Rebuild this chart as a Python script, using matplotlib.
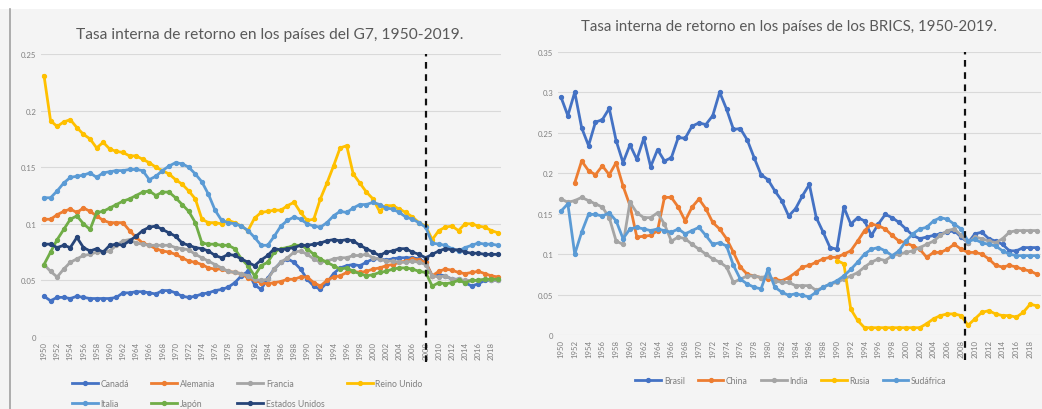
import numpy as np
import matplotlib
matplotlib.use("Agg")
import matplotlib.pyplot as plt
from matplotlib.patches import Rectangle
from matplotlib.lines import Line2D

plt.rcParams['font.family'] = ['Lato', 'DejaVu Sans']

years = list(range(1950, 2020))
nan = np.nan

# ---- G7 ----
canada = [0.036, 0.032, 0.035, 0.035, 0.034, 0.036, 0.035, 0.034, 0.034, 0.034,
          0.034, 0.035, 0.039, 0.039, 0.040, 0.040, 0.039, 0.038, 0.041, 0.041,
          0.039, 0.036, 0.035, 0.036, 0.038, 0.039, 0.041, 0.042, 0.044, 0.048,
          0.054, 0.058, 0.046, 0.042, 0.052, 0.060, 0.066, 0.069, 0.066, 0.060,
          0.051, 0.045, 0.042, 0.048, 0.056, 0.061, 0.063, 0.064, 0.063, 0.066,
          0.069, 0.069, 0.068, 0.069, 0.070, 0.070, 0.070, 0.069, 0.066, 0.054,
          0.055, 0.054, 0.051, 0.051, 0.048, 0.045, 0.047, 0.050, 0.050, 0.050]
alemania = [0.104, 0.104, 0.108, 0.111, 0.113, 0.110, 0.114, 0.111, 0.107, 0.103,
            0.101, 0.101, 0.101, 0.094, 0.088, 0.083, 0.081, 0.078, 0.076, 0.075,
            0.073, 0.070, 0.067, 0.066, 0.064, 0.061, 0.060, 0.060, 0.058, 0.057,
            0.056, 0.052, 0.050, 0.048, 0.047, 0.048, 0.049, 0.051, 0.051, 0.053,
            0.053, 0.048, 0.045, 0.050, 0.053, 0.054, 0.057, 0.058, 0.057, 0.058,
            0.060, 0.061, 0.063, 0.064, 0.066, 0.067, 0.069, 0.068, 0.066, 0.054,
            0.058, 0.060, 0.059, 0.057, 0.056, 0.057, 0.058, 0.056, 0.054, 0.053]
francia = [0.064, 0.058, 0.053, 0.060, 0.066, 0.069, 0.072, 0.073, 0.075, 0.075,
           0.076, 0.081, 0.085, 0.086, 0.083, 0.082, 0.081, 0.081, 0.081, 0.081,
           0.079, 0.078, 0.077, 0.073, 0.070, 0.067, 0.064, 0.061, 0.058, 0.057,
           0.056, 0.054, 0.051, 0.050, 0.051, 0.060, 0.066, 0.070, 0.075, 0.076,
           0.073, 0.069, 0.066, 0.067, 0.069, 0.070, 0.070, 0.072, 0.072, 0.073,
           0.070, 0.069, 0.067, 0.067, 0.066, 0.066, 0.067, 0.066, 0.064, 0.054,
           0.053, 0.054, 0.051, 0.051, 0.050, 0.050, 0.050, 0.051, 0.050, 0.050]
reino_unido = [0.231, 0.191, 0.186, 0.190, 0.192, 0.185, 0.179, 0.175, 0.167, 0.172,
               0.166, 0.164, 0.163, 0.160, 0.160, 0.157, 0.154, 0.150, 0.147, 0.144,
               0.139, 0.135, 0.129, 0.122, 0.104, 0.101, 0.101, 0.100, 0.103, 0.101,
               0.098, 0.094, 0.105, 0.110, 0.111, 0.112, 0.112, 0.116, 0.119, 0.110,
               0.103, 0.104, 0.122, 0.136, 0.151, 0.167, 0.169, 0.144, 0.136, 0.128,
               0.122, 0.111, 0.116, 0.116, 0.113, 0.110, 0.106, 0.101, 0.098, 0.086,
               0.094, 0.097, 0.098, 0.094, 0.100, 0.100, 0.098, 0.097, 0.094, 0.092]
italia = [0.123, 0.123, 0.129, 0.136, 0.141, 0.142, 0.143, 0.145, 0.141, 0.145,
          0.146, 0.147, 0.147, 0.148, 0.148, 0.147, 0.139, 0.142, 0.147, 0.151,
          0.154, 0.153, 0.150, 0.144, 0.137, 0.126, 0.112, 0.103, 0.101, 0.100,
          0.098, 0.094, 0.088, 0.081, 0.081, 0.089, 0.098, 0.103, 0.106, 0.104,
          0.100, 0.098, 0.097, 0.101, 0.107, 0.111, 0.110, 0.114, 0.117, 0.117,
          0.119, 0.117, 0.114, 0.113, 0.110, 0.106, 0.104, 0.101, 0.097, 0.083,
          0.082, 0.081, 0.078, 0.076, 0.079, 0.081, 0.083, 0.082, 0.082, 0.081]
japon = [0.064, 0.075, 0.086, 0.095, 0.104, 0.107, 0.100, 0.095, 0.110, 0.111,
         0.114, 0.117, 0.120, 0.122, 0.125, 0.128, 0.129, 0.125, 0.128, 0.128,
         0.123, 0.117, 0.111, 0.101, 0.083, 0.082, 0.082, 0.081, 0.081, 0.078,
         0.069, 0.063, 0.054, 0.063, 0.066, 0.075, 0.078, 0.079, 0.081, 0.081,
         0.078, 0.073, 0.069, 0.066, 0.063, 0.060, 0.061, 0.058, 0.056, 0.054,
         0.055, 0.057, 0.058, 0.060, 0.061, 0.061, 0.060, 0.058, 0.057, 0.045,
         0.048, 0.047, 0.048, 0.050, 0.048, 0.050, 0.050, 0.051, 0.051, 0.051]
estados_unidos = [0.082, 0.082, 0.079, 0.081, 0.079, 0.088, 0.079, 0.076, 0.078, 0.075,
                  0.081, 0.082, 0.081, 0.085, 0.089, 0.094, 0.097, 0.098, 0.095, 0.092,
                  0.089, 0.083, 0.081, 0.079, 0.078, 0.076, 0.072, 0.070, 0.073, 0.072,
                  0.069, 0.066, 0.063, 0.068, 0.072, 0.078, 0.077, 0.078, 0.079, 0.081,
                  0.081, 0.082, 0.083, 0.085, 0.086, 0.085, 0.086, 0.085, 0.081, 0.078,
                  0.075, 0.072, 0.075, 0.076, 0.078, 0.078, 0.075, 0.073, 0.070, 0.073,
                  0.076, 0.078, 0.077, 0.077, 0.075, 0.074, 0.074, 0.073, 0.073, 0.073]

# ---- BRICS ----
brasil = [0.294, 0.271, 0.300, 0.256, 0.234, 0.263, 0.266, 0.280, 0.240, 0.213,
          0.235, 0.217, 0.243, 0.208, 0.229, 0.215, 0.219, 0.244, 0.243, 0.258,
          0.262, 0.260, 0.271, 0.300, 0.279, 0.254, 0.255, 0.241, 0.219, 0.198,
          0.192, 0.178, 0.166, 0.147, 0.156, 0.172, 0.186, 0.145, 0.127, 0.108,
          0.106, 0.158, 0.137, 0.145, 0.141, 0.123, 0.137, 0.149, 0.145, 0.139,
          0.131, 0.123, 0.119, 0.121, 0.123, 0.125, 0.127, 0.129, 0.121, 0.114,
          0.125, 0.127, 0.119, 0.116, 0.112, 0.104, 0.104, 0.108, 0.108, 0.108]
china = [nan, nan, 0.188, 0.215, 0.203, 0.198, 0.209, 0.198, 0.213, 0.184,
         0.160, 0.121, 0.122, 0.123, 0.129, 0.170, 0.170, 0.158, 0.141, 0.158,
         0.168, 0.156, 0.139, 0.131, 0.119, 0.102, 0.084, 0.075, 0.073, 0.071,
         0.069, 0.069, 0.067, 0.071, 0.077, 0.084, 0.086, 0.090, 0.094, 0.096,
         0.096, 0.100, 0.104, 0.116, 0.129, 0.137, 0.135, 0.131, 0.123, 0.116,
         0.114, 0.110, 0.106, 0.096, 0.102, 0.102, 0.106, 0.112, 0.106, 0.102,
         0.102, 0.100, 0.094, 0.086, 0.084, 0.086, 0.084, 0.081, 0.079, 0.075]
india = [0.168, 0.164, 0.166, 0.170, 0.166, 0.162, 0.158, 0.145, 0.116, 0.112,
         0.164, 0.151, 0.145, 0.145, 0.151, 0.137, 0.116, 0.121, 0.119, 0.112,
         0.106, 0.100, 0.094, 0.090, 0.084, 0.065, 0.069, 0.073, 0.073, 0.071,
         0.073, 0.067, 0.065, 0.065, 0.061, 0.061, 0.061, 0.055, 0.059, 0.063,
         0.065, 0.069, 0.073, 0.077, 0.084, 0.090, 0.094, 0.092, 0.098, 0.100,
         0.102, 0.104, 0.108, 0.112, 0.116, 0.123, 0.129, 0.131, 0.123, 0.114,
         0.121, 0.119, 0.116, 0.114, 0.119, 0.127, 0.129, 0.129, 0.129, 0.129]
rusia = [nan] * 40 + [0.092, 0.088, 0.032, 0.018, 0.009, 0.009, 0.009, 0.009, 0.009, 0.009,
                      0.009, 0.009, 0.009, 0.014, 0.020, 0.024, 0.026, 0.026, 0.024, 0.012,
                      0.020, 0.028, 0.030, 0.026, 0.024, 0.024, 0.022, 0.028, 0.038, 0.036]
sudafrica = [0.153, 0.162, 0.100, 0.127, 0.149, 0.149, 0.147, 0.151, 0.141, 0.119,
             0.131, 0.133, 0.131, 0.129, 0.131, 0.129, 0.127, 0.131, 0.125, 0.129,
             0.133, 0.123, 0.112, 0.114, 0.110, 0.086, 0.069, 0.063, 0.059, 0.057,
             0.081, 0.059, 0.053, 0.049, 0.051, 0.049, 0.047, 0.053, 0.059, 0.063,
             0.067, 0.073, 0.081, 0.090, 0.100, 0.106, 0.108, 0.104, 0.098, 0.104,
             0.116, 0.125, 0.131, 0.133, 0.141, 0.145, 0.143, 0.137, 0.131, 0.116,
             0.118, 0.114, 0.112, 0.110, 0.104, 0.100, 0.098, 0.098, 0.098, 0.098]

g7_names = ["Canadá", "Alemania", "Francia", "Reino Unido", "Italia", "Japón", "Estados Unidos"]
g7_series = [canada, alemania, francia, reino_unido, italia, japon, estados_unidos]
brics_names = ["Brasil", "China", "India", "Rusia", "Sudáfrica"]
brics_series = [brasil, china, india, rusia, sudafrica]

g7_yticks = [0, 0.05, 0.1, 0.15, 0.2, 0.25]
g7_yticklabels = ["0", "0.05", "0.1", "0.15", "0.2", "0.25"]
brics_yticks = [0, 0.05, 0.1, 0.15, 0.2, 0.25, 0.3, 0.35]
brics_yticklabels = ["0", "0.05", "0.1", "0.15", "0.2", "0.25", "0.3", "0.35"]
xtick_years = list(range(1950, 2019, 2))
crisis_g7 = 2008
crisis_brics = 2008.6

title_g7 = "Tasa interna de retorno en los países del G7, 1950-2019."
title_brics = "Tasa interna de retorno en los países de los BRICS, 1950-2019."

g7_colors = ["#4472C4", "#ED7D31", "#A5A5A5", "#FFC000", "#5B9BD5", "#70AD47", "#264478"]
brics_colors = ["#4472C4", "#ED7D31", "#A5A5A5", "#FFC000", "#5B9BD5"]

for s in g7_series + brics_series:
    assert len(s) == 70

BG = "#f4f4f4"
W, H = 1042, 410
fig = plt.figure(figsize=(W / 100, H / 100), dpi=100, facecolor=BG)

def px_axes(x0, y0, x1, y1):
    return fig.add_axes([x0 / W, 1 - y1 / H, (x1 - x0) / W, (y1 - y0) / H])

# white strip on top and left border line
fig.patches.append(Rectangle((0, 1 - 10 / H), 1, 10 / H, transform=fig.transFigure,
                             facecolor="white", edgecolor="none", zorder=0))
fig.lines.append(Line2D([10 / W, 10 / W], [0, 1 - 10 / H], transform=fig.transFigure,
                        color="#a0a0a0", lw=1.2))

ax1 = px_axes(40.7, 55, 501.3, 338)
ax2 = px_axes(557.5, 52.7, 1040.5, 336)

def style(ax, yticks, ylabels, ymax, crisis):
    ax.set_facecolor(BG)
    ax.set_xlim(1949.5, 2019.5)
    ax.set_ylim(0, ymax)
    ax.set_yticks(yticks)
    ax.set_yticklabels(ylabels)
    ax.set_xticks(xtick_years)
    ax.set_xticklabels([str(y) for y in xtick_years], rotation=90)
    ax.tick_params(axis="both", length=0, labelsize=5.6, colors="#7f7f7f", pad=3)
    ax.grid(axis="y", color="#d9d9d9", lw=0.8)
    ax.set_axisbelow(True)
    for sp in ax.spines.values():
        sp.set_visible(False)
    ax.axvline(crisis, ymin=-0.09, ymax=1.0, color="#111111", lw=1.6,
               ls=(0, (3, 2.5)), clip_on=False, zorder=5)

for name, vals, col in zip(g7_names, g7_series, g7_colors):
    ax1.plot(years, vals, color=col, lw=2.0, marker="o", ms=2.8, label=name, zorder=3)
for name, vals, col in zip(brics_names, brics_series, brics_colors):
    ax2.plot(years, vals, color=col, lw=2.0, marker="o", ms=2.8, label=name, zorder=3)

style(ax1, g7_yticks, g7_yticklabels, 0.25, crisis_g7)
style(ax2, brics_yticks, brics_yticklabels, 0.35, crisis_brics)

fig.text(270 / W, 1 - 35 / H, title_g7, ha="center", va="center", fontsize=11.2, color="#595959")
fig.text(789 / W, 1 - 27 / H, title_brics, ha="center", va="center", fontsize=10.8, color="#595959")

# legend in row-major order (matplotlib fills legend columns first)
h1, l1 = ax1.get_legend_handles_labels()
order = [0, 4, 1, 5, 2, 6, 3]
fig.legend([h1[i] for i in order], [l1[i] for i in order], ncol=4, loc="upper left",
           bbox_to_anchor=(72 / W, 1 - 380 / H), frameon=False, fontsize=6.2,
           labelcolor="#7f7f7f", handlelength=3.0, columnspacing=2.6,
           handletextpad=0.3, labelspacing=1.3, borderaxespad=0, borderpad=0)
h2, l2 = ax2.get_legend_handles_labels()
fig.legend(h2, l2, ncol=5, loc="center", bbox_to_anchor=(791 / W, 1 - 382 / H),
           frameon=False, fontsize=6.2, labelcolor="#7f7f7f", handlelength=3.0,
           columnspacing=1.5, handletextpad=0.3)

fig.savefig("out.png", dpi=100, facecolor=BG)
